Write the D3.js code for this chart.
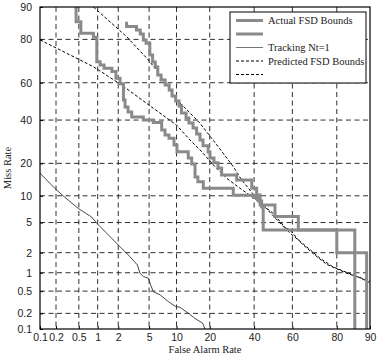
<!DOCTYPE html>
<html><head><meta charset="utf-8">
<script src="https://cdn.jsdelivr.net/npm/d3@7"></script>
<style>body{margin:0;background:#fff}svg{display:block}</style>
</head><body><svg id="c" width="378" height="356"></svg>
<script>
// ---- data (percent) ----
const tickValues = [0.1, 0.2, 0.5, 1, 2, 5, 10, 20, 40, 60, 80, 90];
const tickLabels = ["0.1", "0.2", "0.5", "1", "2", "5", "10", "20", "40", "60", "80", "90"];

// Actual FSD Bounds (two staircases), points for a step-before curve
const actual1FA   = [0.45,0.54,0.86,0.97,1.09,1.25,1.63,1.86,2.12,2.36,2.48,2.72,3.04,4.26,5.6,6.97,7.58,8.36,9.43,10.1,13.0,14.0,15.0,15.9,17.7,29.8,39.6,42.2,43.9,44.7,86.0,86.0];
const actual1Miss = [90,86.0,82.3,80.8,70.5,68.9,67.4,65.7,62.3,59.4,50.8,47.0,44.3,41.6,40.0,38.7,34.9,32.4,30.8,27.7,24.7,22.1,19.8,15.2,13.8,11.9,10.1,9.6,8.8,7.6,4.04,0.1];
const actual2FA   = [2.6,3.5,3.9,4.26,4.6,5.1,5.5,5.9,6.3,6.85,7.6,8.4,9.0,9.8,10.6,11.2,12.4,13.2,14.4,15.5,16.6,17.6,19.4,20.1,21.6,23.2,24.7,31.4,38.8,41.3,43.1,50.9,63,80,89.2,89.2];
const actual2Miss = [86,84.5,83.4,82,79.8,78.5,73.6,70.4,68,64,61.4,58.8,56.2,52.9,50.2,47.5,43.8,41.1,38.5,35.9,32.9,30,27.3,24.6,22.1,20.2,18.3,15.9,14.3,11.9,10.2,8.0,5.9,4.04,2.0,0.1];

// Tracking Nt=1
const trackFA   = [0.1,0.19,0.27,0.49,0.81,0.97,1.37,2.0,2.88,3.59,3.88,4.26,4.9,5.23,5.6,6.7,8.2,9.7,10.8,13.3,15.0,17.5,18.3];
const trackMiss = [16.5,11.9,9.96,7.3,5.8,4.9,3.67,2.56,1.75,1.32,0.98,0.87,0.82,0.63,0.49,0.43,0.33,0.27,0.26,0.195,0.16,0.13,0.1];

// Predicted FSD Bounds (two dashed curves)
const predAFA   = [0.86,2.61,4.9,6.97,9.66,13.5,16.6,23.3,29.8,33.8,41.3,50,55.3,58.8,64.5,71.8,76,80,83.5,86.6,90];
const predAMiss = [90,81,71.3,63.2,51.8,43.8,38.3,26.9,18.8,14.3,9.4,6.0,4.45,4.04,2.7,1.75,1.35,1.15,0.98,0.87,0.74];
const predBFA   = [0.1,0.24,0.86,2.23,5.6,10,13.5,16.6,21.4,26.9,33,41.3,50,58.8,67.1,73.2,78.6,83.5,86.9,90];
const predBMiss = [79.8,75.7,68.1,58.8,46.3,37.4,30,25.5,19.4,14.8,11.9,9.0,6.4,3.67,2.42,1.66,1.23,1.01,0.86,0.69];

const legendItems = [
  {label: "Actual FSD Bounds", type: "actual"},
  {label: "", type: "actual"},
  {label: "Tracking Nt=1", type: "track"},
  {label: "Predicted FSD Bounds", type: "pred"},
  {label: "", type: "pred"}
];

// ---- inverse normal CDF (Acklam) ----
function probit(p){
  const a=[-3.969683028665376e+01,2.209460984245205e+02,-2.759285104469687e+02,1.383577518672690e+02,-3.066479806614716e+01,2.506628277459239e+00];
  const b=[-5.447609879822406e+01,1.615858368580409e+02,-1.556989798598866e+02,6.680131188771972e+01,-1.328068155288572e+01];
  const c=[-7.784894002430293e-03,-3.223964580411365e-01,-2.400758277161838e+00,-2.549671010229583e+00,4.374664141464968e+00,2.938163982698783e+00];
  const d=[7.784695709041462e-03,3.224671290700398e-01,2.445134137142996e+00,3.754408661907416e+00];
  const pl=0.02425, ph=1-pl; let q,r;
  if(p<pl){q=Math.sqrt(-2*Math.log(p));return (((((c[0]*q+c[1])*q+c[2])*q+c[3])*q+c[4])*q+c[5])/((((d[0]*q+d[1])*q+d[2])*q+d[3])*q+1);}
  if(p>ph){q=Math.sqrt(-2*Math.log(1-p));return -(((((c[0]*q+c[1])*q+c[2])*q+c[3])*q+c[4])*q+c[5])/((((d[0]*q+d[1])*q+d[2])*q+d[3])*q+1);}
  q=p-0.5;r=q*q;return (((((a[0]*r+a[1])*r+a[2])*r+a[3])*r+a[4])*r+a[5])*q/(((((b[0]*r+b[1])*r+b[2])*r+b[3])*r+b[4])*r+1);
}
const z = v => probit(v/100);

// ---- layout ----
const L = 40, R = 370, T = 7, B = 329;
const svg = d3.select("#c");
svg.append("rect").attr("width",378).attr("height",356).attr("fill","#fff");

const x = d3.scaleLinear().domain([z(0.1), z(90)]).range([L, R]);
const y = d3.scaleLinear().domain([z(0.1), z(90)]).range([B, T]);
const zt = tickValues.map(z);

svg.append("defs").append("clipPath").attr("id","clip")
  .append("rect").attr("x",L).attr("y",T).attr("width",R-L).attr("height",B-T);

// grid
const grid = svg.append("g").attr("stroke","#1a1a1a").attr("stroke-width",0.9).attr("stroke-dasharray","5,3.5");
zt.slice(1,-1).forEach(v=>{
  grid.append("line").attr("x1",x(v)).attr("x2",x(v)).attr("y1",T).attr("y2",B);
  grid.append("line").attr("y1",y(v)).attr("y2",y(v)).attr("x1",L).attr("x2",R);
});

// axes
const fontSans = "'Liberation Sans', Arial, sans-serif";
const fontSerif = "'Liberation Serif', 'Times New Roman', serif";
const xAxis = svg.append("g").attr("transform",`translate(0,${B})`)
  .call(d3.axisBottom(x).tickValues(zt).tickFormat((d,i)=>tickLabels[i]).tickSizeInner(-3).tickSizeOuter(0).tickPadding(5));
const yAxis = svg.append("g").attr("transform",`translate(${L},0)`)
  .call(d3.axisLeft(y).tickValues(zt).tickFormat((d,i)=>tickLabels[i]).tickSizeInner(-3).tickSizeOuter(0).tickPadding(8));
[xAxis,yAxis].forEach(g=>{
  g.select(".domain").remove();
  g.selectAll("line").attr("stroke","#000");
  g.selectAll("text").attr("font-family",fontSans).attr("font-size","10.5px").attr("fill","#222");
});

// curves
const plot = svg.append("g").attr("clip-path","url(#clip)");
const mk = (fa, miss) => fa.map((f,i)=>[z(f), z(miss[i])]);
const stepLine = d3.line().x(d=>x(d[0])).y(d=>y(d[1])).curve(d3.curveStepBefore);
const line = d3.line().x(d=>x(d[0])).y(d=>y(d[1]));

plot.append("path").datum(mk(predAFA,predAMiss)).attr("d",line)
  .attr("fill","none").attr("stroke","#000").attr("stroke-width",1).attr("stroke-dasharray","3,2");
plot.append("path").datum(mk(predBFA,predBMiss)).attr("d",line)
  .attr("fill","none").attr("stroke","#000").attr("stroke-width",1).attr("stroke-dasharray","3,2");
[[actual1FA,actual1Miss],[actual2FA,actual2Miss]].forEach(([fa,m])=>{
  plot.append("path").datum(mk(fa,m)).attr("d",stepLine)
    .attr("fill","none").attr("stroke","#8a8a8a").attr("stroke-width",3).attr("stroke-linejoin","miter");
});
plot.append("path").datum(mk(trackFA,trackMiss)).attr("d",line)
  .attr("fill","none").attr("stroke","#333").attr("stroke-width",0.9);

// frame
svg.append("rect").attr("x",L).attr("y",T).attr("width",R-L).attr("height",B-T)
  .attr("fill","none").attr("stroke","#000").attr("stroke-width",1.2);

// axis titles
svg.append("text").attr("x",205).attr("y",353).attr("text-anchor","middle")
  .attr("font-family",fontSerif).attr("font-size","10.5px").attr("fill","#222").text("False Alarm Rate");
svg.append("text").attr("transform","translate(11,168) rotate(-90)").attr("text-anchor","middle")
  .attr("font-family",fontSerif).attr("font-size","10.5px").attr("fill","#222").text("Miss Rate");

// legend
const lg = svg.append("g");
lg.append("rect").attr("x",230).attr("y",12).attr("width",136).attr("height",71)
  .attr("fill","#fff").attr("stroke","#000").attr("stroke-width",1);
const rows = d3.scaleLinear().domain([0,4]).range([20.5,74.5]);
legendItems.forEach((it,i)=>{
  const yy = rows(i);
  const ln = lg.append("line").attr("x1",236).attr("x2",263).attr("y1",yy).attr("y2",yy).attr("fill","none");
  if(it.type==="actual") ln.attr("stroke","#8a8a8a").attr("stroke-width",3);
  else if(it.type==="track") ln.attr("stroke","#777").attr("stroke-width",1);
  else ln.attr("stroke","#000").attr("stroke-width",1).attr("stroke-dasharray","3,2");
  if(it.label) lg.append("text").attr("x",268).attr("y",yy+3.5)
    .attr("font-family",fontSerif).attr("font-size","10.5px").attr("fill","#222").text(it.label);
});
</script></body></html>
